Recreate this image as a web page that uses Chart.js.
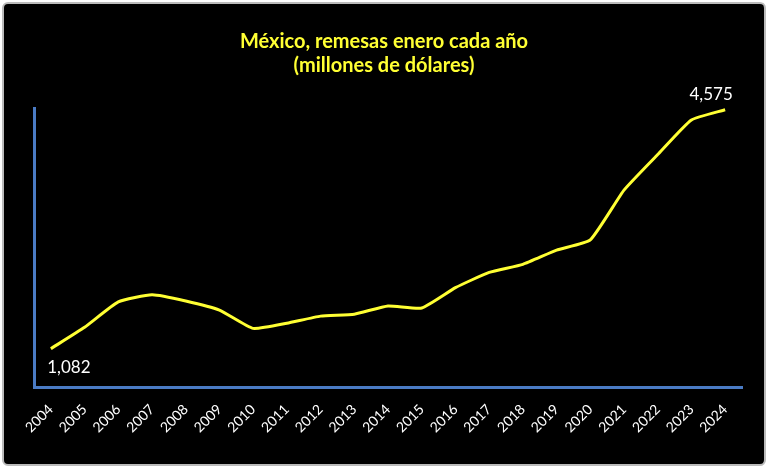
<!DOCTYPE html>
<html>
<head>
<meta charset="utf-8">
<script src="https://cdn.jsdelivr.net/npm/chart.js@4"></script>
<style>
  html, body { margin: 0; padding: 0; background: #fff; }
  #wrap { position: absolute; left: 2px; top: 2px; width: 760px; height: 460px;
          background: #000; border: 2px solid #bbb; border-radius: 6px; }
</style>
</head>
<body>
<div id="wrap"><canvas id="c" width="760" height="460"></canvas></div>
<script>
// years and January remittances (millions USD)
const years = ['2004','2005','2006','2007','2008','2009','2010','2011','2012','2013','2014',
               '2015','2016','2017','2018','2019','2020','2021','2022','2023','2024'];
const remesas = [1082, 1394, 1765, 1870, 1780, 1647, 1379, 1454, 1558, 1587, 1706,
                 1676, 1974, 2197, 2315, 2523, 2672, 3400, 3920, 4426, 4575];

// label first and last point
const endLabels = {
    id: 'endLabels',
    afterDatasetsDraw(chart) {
        const ctx = chart.ctx;
        const pts = chart.getDatasetMeta(0).data;
        ctx.save();
        ctx.fillStyle = '#fff';
        ctx.font = '17px Lato, "Liberation Sans", sans-serif';
        ctx.textAlign = 'center';
        ctx.fillText(remesas[0].toLocaleString('en-US'), pts[0].x + 18, pts[0].y + 24);
        const last = pts[pts.length - 1];
        ctx.fillText(remesas[remesas.length - 1].toLocaleString('en-US'), last.x - 14, last.y - 10);
        ctx.restore();
    }
};

new Chart(document.getElementById('c'), {
    type: 'line',
    data: {
        labels: years,
        datasets: [{
            data: remesas,
            borderColor: '#ffff33',
            borderWidth: 3,
            pointRadius: 0,
            tension: 0.15
        }]
    },
    options: {
        responsive: false,
        animation: false,
        layout: { padding: { left: 22, right: 22, top: 4, bottom: 22 } },
        plugins: {
            legend: { display: false },
            tooltip: { enabled: false },
            title: {
                display: true,
                text: ['México, remesas enero cada año', '(millones de dólares)'],
                color: '#ffff33',
                font: { size: 20, weight: 'bold', family: 'Lato, "Liberation Sans", sans-serif' },
                padding: { top: 22, bottom: 30 },
                lineHeight: 1.4
            }
        },
        scales: {
            x: {
                offset: true,
                grid: { display: false },
                border: { color: '#4a7bc4', width: 3 },
                ticks: { color: '#fff', maxRotation: 45, minRotation: 45, padding: 6,
                         font: { size: 14, family: 'Lato, "Liberation Sans", sans-serif' } }
            },
            y: {
                min: 520, max: 4600,
                grid: { display: false },
                border: { color: '#4a7bc4', width: 3 },
                ticks: { display: false }
            }
        }
    },
    plugins: [endLabels]
});
</script>
</body>
</html>
